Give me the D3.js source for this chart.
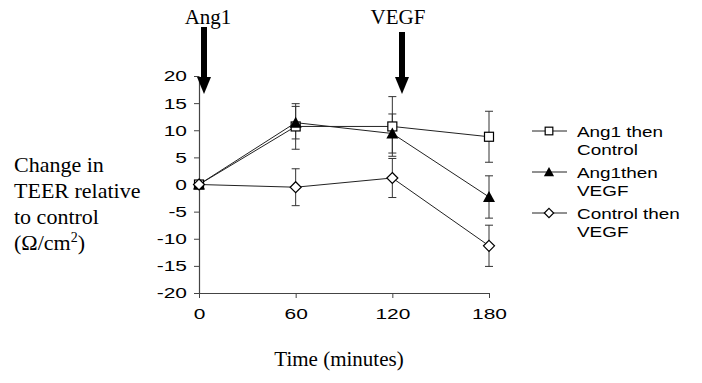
<!DOCTYPE html>
<html><head><meta charset="utf-8">
<script src="https://cdn.jsdelivr.net/npm/d3@7"></script>
<style>body{margin:0;background:#fff}svg{display:block}</style>
</head><body>
<svg id="c" width="702" height="383"></svg>
<script>
const times = [0, 60, 120, 180];
const xTicks = [0, 60, 120, 180];
const yTicks = [20, 15, 10, 5, 0, -5, -10, -15, -20];
const seriesNames = ["Ang1 then Control", "Ang1then VEGF", "Control then VEGF"];
const legendLines = [["Ang1 then", "Control"], ["Ang1then", "VEGF"], ["Control then", "VEGF"]];
const ang1Control = [0, 10.7, 10.7, 8.8];
const ang1ControlErr = [0, 4.2, 5.5, 4.7];
const ang1Vegf = [0, 11.4, 9.4, -2.3];
const ang1VegfErr = [0, 3.0, 3.6, 3.9];
const controlVegf = [0, -0.5, 1.2, -11.3];
const controlVegfErr = [0, 3.4, 3.6, 3.8];
const events = [{t: 0, label: "Ang1"}, {t: 125, label: "VEGF"}];

const SANS = "Arial, 'Liberation Sans', sans-serif";
const SERIF = "'Liberation Serif', 'Times New Roman', serif";
const SX = 1.35; // horizontal stretch of the sans labels as in the scanned original

const svg = d3.select("#c");
const x = d3.scaleLinear().domain([0, 180]).range([199, 489]);
const y = d3.scaleLinear().domain([-20, 20]).range([293, 76]);

const series = [
  {name: seriesNames[0], v: ang1Control, e: ang1ControlErr, m: "square"},
  {name: seriesNames[1], v: ang1Vegf, e: ang1VegfErr, m: "triangle"},
  {name: seriesNames[2], v: controlVegf, e: controlVegfErr, m: "diamond"}
];

// axes
const yAxis = svg.append("g").attr("transform", `translate(${x(0)},0)`)
  .call(d3.axisLeft(y).tickValues(yTicks).tickFormat(d => String(d)).tickSize(5).tickSizeOuter(0).tickPadding(7));
const xAxis = svg.append("g").attr("transform", `translate(0,${y(-20)})`)
  .call(d3.axisBottom(x).tickValues(xTicks).tickFormat(d => String(d)).tickSize(5).tickSizeOuter(0).tickPadding(9.5));
[yAxis, xAxis].forEach(g => {
  g.select(".domain").attr("stroke", "#444").attr("stroke-width", 1.2);
  g.selectAll(".tick line").attr("stroke", "#444");
  g.selectAll("text").attr("font-family", SANS).attr("font-size", 15.5).attr("fill", "#000");
});
yAxis.selectAll(".tick text").attr("x", -12 / SX).attr("transform", `scale(${SX},1)`);
xAxis.selectAll(".tick text").attr("transform", `scale(${SX},1)`);

// error bars
const capW = 4;
series.forEach(s => {
  times.forEach((t, i) => {
    if (!s.e[i]) return;
    const g = svg.append("g").attr("stroke", "#333").attr("stroke-width", 1);
    g.append("line").attr("x1", x(t)).attr("x2", x(t)).attr("y1", y(s.v[i] + s.e[i])).attr("y2", y(s.v[i] - s.e[i]));
    [s.v[i] + s.e[i], s.v[i] - s.e[i]].forEach(val =>
      g.append("line").attr("x1", x(t) - capW).attr("x2", x(t) + capW).attr("y1", y(val)).attr("y2", y(val)));
  });
});

// lines
const line = d3.line().x((d, i) => x(times[i])).y(d => y(d));
series.forEach(s => {
  svg.append("path").datum(s.v).attr("d", line).attr("fill", "none").attr("stroke", "#222").attr("stroke-width", 1);
});

function marker(g, type, cx, cy, sc) {
  const r = sc || 1;
  if (type === "square") {
    g.append("rect").attr("x", cx - 4.5 * r).attr("y", cy - 4.5 * r).attr("width", 9 * r).attr("height", 9 * r)
      .attr("fill", "#fff").attr("stroke", "#000").attr("stroke-width", 1.2);
  } else if (type === "triangle") {
    g.append("path").attr("d", `M${cx},${cy - 6 * r}L${cx + 6 * r},${cy + 5 * r}L${cx - 6 * r},${cy + 5 * r}Z`).attr("fill", "#000");
  } else {
    g.append("path").attr("d", `M${cx},${cy - 5.5 * r}L${cx + 5.5 * r},${cy}L${cx},${cy + 5.5 * r}L${cx - 5.5 * r},${cy}Z`)
      .attr("fill", "#fff").attr("stroke", "#000").attr("stroke-width", 1.2);
  }
}
series.forEach(s => {
  const g = svg.append("g");
  times.forEach((t, i) => marker(g, s.m, x(t), y(s.v[i])));
});

// legend
const legY = [131, 172, 213];
series.forEach((s, k) => {
  const g = svg.append("g");
  g.append("line").attr("x1", 532).attr("x2", 567).attr("y1", legY[k]).attr("y2", legY[k])
    .attr("stroke", "#222").attr("stroke-width", 1);
  marker(g, s.m, 549, legY[k], 0.85);
  const tx = g.append("text").attr("transform", `translate(577,${legY[k] + 5.5}) scale(1.22,1)`)
    .attr("font-family", SANS).attr("font-size", 15.5);
  legendLines[k].forEach((l, j) => tx.append("tspan").attr("x", 0).attr("y", j * 19).text(l));
});

// event arrows
const ax = [204, 402];
const lx = [208, 398];
events.forEach((ev, k) => {
  const cx = ax[k];
  svg.append("text").attr("x", lx[k]).attr("y", 24).attr("text-anchor", "middle")
    .attr("font-family", SERIF).attr("font-size", 21).text(ev.label);
  const top = k ? 32 : 27;
  svg.append("rect").attr("x", cx - 3).attr("y", top).attr("width", 6).attr("height", 78 - top).attr("fill", "#000");
  svg.append("path").attr("d", `M${cx - 7},77L${cx + 7},77L${cx},94Z`).attr("fill", "#000");
});

// axis titles
const yt = svg.append("text").attr("font-family", SERIF).attr("font-size", 22);
const yl = ["Change in", "TEER relative", "to control"];
yl.forEach((l, i) => yt.append("tspan").attr("x", 14).attr("y", 172 + i * 26).text(l));
const last = svg.append("text").attr("x", 14).attr("y", 250)
  .attr("font-family", SERIF).attr("font-size", 22);
last.append("tspan").text("(Ω/cm");
last.append("tspan").attr("font-size", 14).attr("dy", -8).text("2");
last.append("tspan").attr("dy", 8).text(")");

svg.append("text").attr("x", 339).attr("y", 366).attr("text-anchor", "middle")
  .attr("font-family", SERIF).attr("font-size", 21).text("Time (minutes)");
</script>
</body></html>
